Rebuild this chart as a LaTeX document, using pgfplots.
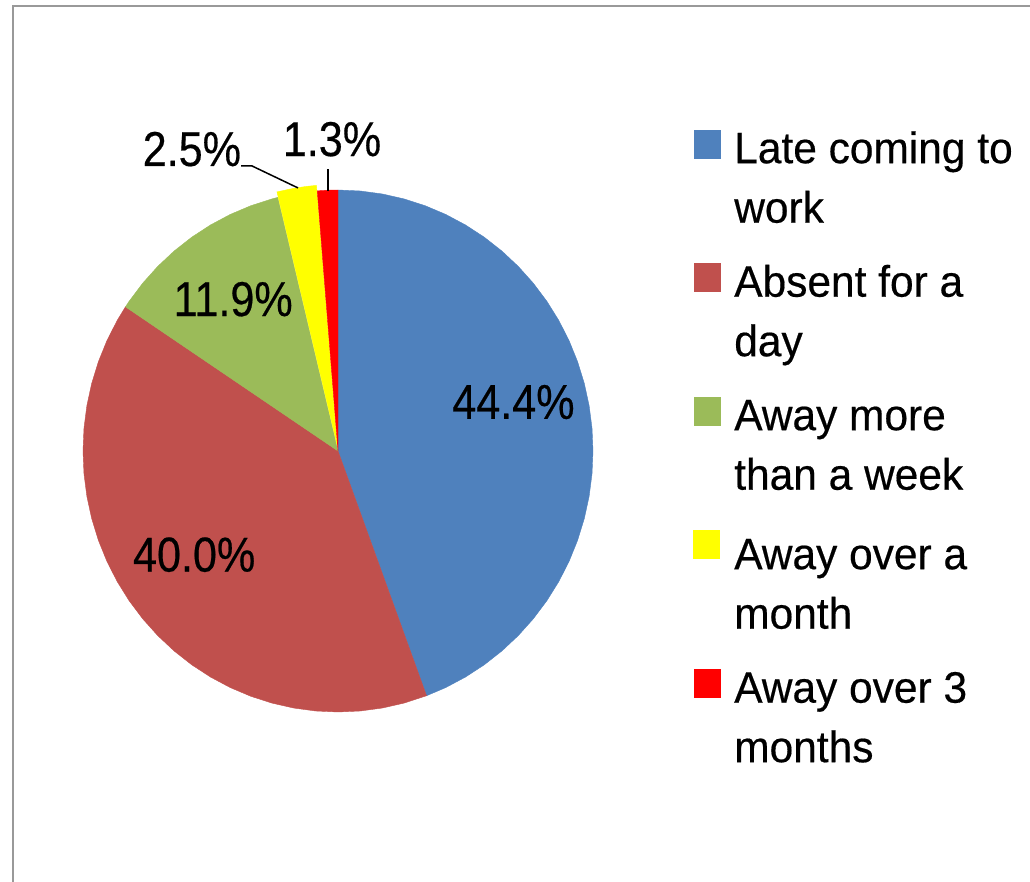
\documentclass[border=0pt]{standalone}
\usepackage{pgfplots}
\pgfplotsset{compat=1.18}
\usepackage{fontspec}
\setmainfont{Liberation Sans}
\newfontfamily\lblfont{Liberation Sans}[FakeStretch=0.88,FakeBold=0.4]
\newfontfamily\legfont{Liberation Sans}[FakeStretch=0.965,FakeBold=0.4]
\definecolor{cBlue}{HTML}{4F81BD}
\definecolor{cRed}{HTML}{C0504D}
\definecolor{cGreen}{HTML}{9BBB59}
\definecolor{cYellow}{HTML}{FFFF00}
\definecolor{cRedB}{HTML}{FF0000}
\newcommand\ent[2]{\rule{0pt}{16.5pt}#1\\#2\rule[-5pt]{0pt}{5pt}}
\newcommand\sqimg[1]{\fill[#1] (0pt,9.875pt) rectangle (13pt,23.875pt);}
\tikzset{lbl/.style={font=\fontsize{24.5}{29}\selectfont\lblfont, anchor=base, inner sep=0pt}}

\begin{document}
\begin{tikzpicture}
\useasboundingbox (0,0) rectangle (515pt,-441pt);
\clip (0,0) rectangle (515pt,-441pt);
\draw[line width=1pt, black!40] (6.65pt,-3pt) rectangle (560pt,-480pt);
\begin{axis}[
  at={(169pt,-225.5pt)}, anchor=origin,
  scale only axis, width=255pt, height=261pt,
  xmin=-1, xmax=1, ymin=-1, ymax=1,
  hide axis, clip=false,
  legend cell align=left,
  legend style={draw=none, fill=none, inner sep=0pt, outer sep=0pt,
    at={(1.197,1.115)}, anchor=north west,
    row sep=18.9pt, column sep=6.8pt,
    font=\fontsize{22}{29.75}\selectfont\legfont,
    nodes={inner sep=0pt, align=left}},
]
\addplot[data cs=polar, fill=cBlue, draw=cBlue, line width=0.2pt,
  legend image code/.code={\sqimg{cBlue}}] coordinates {
(0,0) (90,1) (85,1) (80,1) (75,1) (70,1) (65,1) (60,1) (55,1) (50,1) (45,1)
(40,1) (35,1) (30,1) (25,1) (20,1) (15,1) (10,1) (5,1) (0,1) (-5,1) (-10,1)
(-15,1) (-20,1) (-25,1) (-30,1) (-35,1) (-40,1) (-45,1) (-50,1) (-55,1)
(-60,1) (-65,1) (-69.68,1) (0,0)};
\addlegendentry{\ent{Late coming to}{work}}
\addplot[data cs=polar, fill=cRed, draw=cRed, line width=0.2pt,
  legend image code/.code={\sqimg{cRed}}] coordinates {
(0,0) (-69.68,1) (-75,1) (-80,1) (-85,1) (-90,1) (-95,1) (-100,1) (-105,1)
(-110,1) (-115,1) (-120,1) (-125,1) (-130,1) (-135,1) (-140,1) (-145,1)
(-150,1) (-155,1) (-160,1) (-165,1) (-170,1) (-175,1) (-180,1) (-185,1)
(-190,1) (-195,1) (-200,1) (-205,1) (-210,1) (-213.54,1) (0,0)};
\addlegendentry{\ent{Absent for a}{day}}
\addplot[data cs=polar, fill=cGreen, draw=cGreen, line width=0.2pt,
  legend image code/.code={\sqimg{cGreen}}] coordinates {
(0,0) (146.46,1) (145,1) (140,1) (135,1) (130,1) (125,1) (120,1) (115,1)
(110,1) (105,1) (103.66,1) (0,0)};
\addlegendentry{\ent{Away more}{than a week}}
\addplot[data cs=polar, fill=cYellow, draw=cYellow, line width=0.2pt,
  xshift=-0.4pt, yshift=2.75pt,
  legend image code/.code={\sqimg{cYellow}}] coordinates {
(0,0) (103.66,1) (100,1) (97,1) (94.67,1) (0,0)};
\addlegendentry{\ent{Away over a}{month}}
\addplot[data cs=polar, fill=cRedB, draw=cRedB, line width=0.2pt,
  legend image code/.code={\sqimg{cRedB}}] coordinates {
(0,0) (94.67,1) (92,1) (90,1) (0,0)};
\addlegendentry{\ent{Away over 3}{months}}

\node[lbl] at (axis cs:0.688,0.123) {44.4\%};
\node[lbl] at (axis cs:-0.564,-0.462) {40.0\%};
\node[lbl] at (axis cs:-0.411,0.517) {11.9\%};
\node[lbl] at (axis cs:-0.573,1.092) {2.5\%};
\node[lbl] at (axis cs:-0.0235,1.130) {1.3\%};
\draw[line width=0.75pt] (axis cs:-0.380,1.092) -- (axis cs:-0.337,1.092) -- (axis cs:-0.157,1.008);
\draw[line width=0.75pt] (axis cs:-0.039,1.080) -- (axis cs:-0.039,0.996);
\end{axis}
\end{tikzpicture}
\end{document}
